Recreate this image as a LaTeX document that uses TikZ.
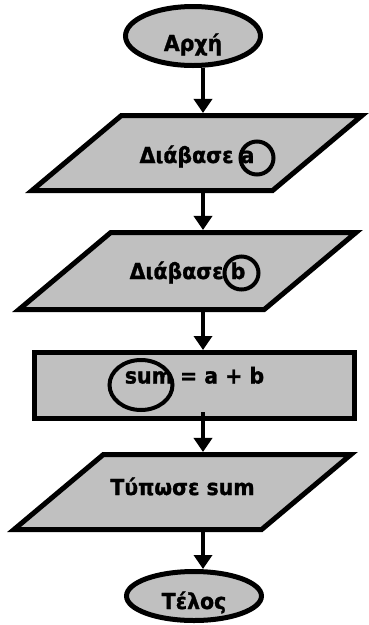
\documentclass[tikz,border=0pt]{standalone}
\usepackage{fontspec}
\setmainfont{DejaVu Sans}[FakeStretch=0.93,FakeBold=1.2]
\usepackage{tikz}
\usetikzlibrary{arrows.meta,shapes.geometric}
\definecolor{boxgray}{RGB}{192,192,192}

\begin{document}
\begin{tikzpicture}[x=1pt,y=-1pt,>={Triangle[width=18pt,length=14pt]},
  every node/.style={font=\fontsize{22}{25}\selectfont\bfseries},
  term/.style={draw,ellipse,fill=boxgray,line width=5pt,inner sep=0pt,text depth=0pt,minimum width=135pt},
  io/.style={draw,trapezium,trapezium left angle=40,trapezium right angle=140,
    trapezium stretches body,fill=boxgray,line width=5pt,
    text height=18pt,text depth=2pt,inner xsep=2pt,inner ysep=27.5pt,minimum width=330pt},
  proc/.style={draw,rectangle,fill=boxgray,line width=5pt},
  ring/.style={draw,ellipse,line width=4pt,inner sep=0pt},
  flow/.style={->,line width=4.5pt}]
  \useasboundingbox (0,0) rectangle (368,625);
  \node[term,text height=30pt,minimum height=59pt] (start) at (193,36) {Αρχή};
  \node[io,text height=20pt,text depth=0pt] (rd1) at (197,153) {Διάβασε a};
  \node[io,inner ysep=28.5pt,minimum width=337pt] (rd2) at (187.5,271) {Διάβασε b};
  \node[proc,text height=10pt,text depth=14pt,minimum width=320pt,minimum height=66pt] (calc) at (194.5,385.5) {sum = a + b};
  \node[io,text height=14pt,text depth=8pt,inner ysep=26.5pt,minimum width=337pt] (out) at (182.5,492) {Τύπωσε sum};
  \node[term,text height=26pt,minimum height=49pt] (stop) at (194,596) {Τέλος};
  % circled variables
  \node[ring,minimum width=33pt,minimum height=33pt] (ra) at (257,158) {};
  \node[ring,minimum width=34pt,minimum height=33pt] (rb) at (241.5,273) {};
  \node[ring,minimum width=63pt,minimum height=50pt] (rs) at (141,385) {};
  \coordinate (col) at (203,0);
  \draw[flow] (col |- start.south) -- (col |- rd1.north);
  \draw[flow] (col |- rd1.south) -- (col |- rd2.north);
  \draw[flow] (col |- rd2.south) -- (col |- calc.north);
  \draw[flow] ([yshift=9pt]col |- calc.south) -- (col |- out.north);
  \draw[flow] (col |- out.south) -- (col |- stop.north);
\end{tikzpicture}
\end{document}
